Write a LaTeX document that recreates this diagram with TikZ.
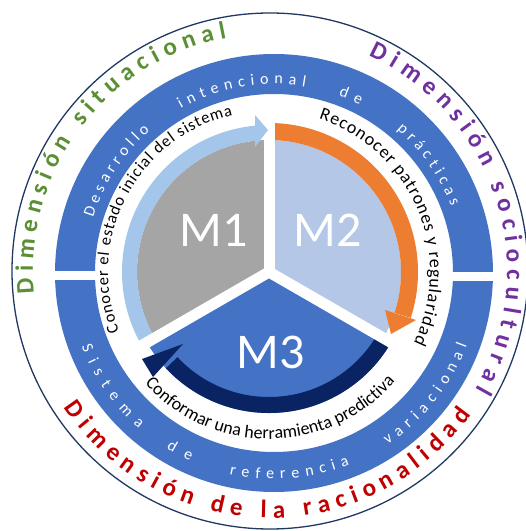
\documentclass[tikz,border=0pt]{standalone}
\usepackage{fontspec}
\setmainfont{Carlito}
\usetikzlibrary{calc,decorations.text}

\definecolor{ringblue}{HTML}{4472C4}
\definecolor{sectorgray}{HTML}{A5A5A5}
\definecolor{sectorpale}{HTML}{B4C7E7}
\definecolor{sectorblue}{HTML}{4472C4}
\definecolor{arrowpale}{HTML}{A3C6EA}
\definecolor{arroworange}{HTML}{ED7D31}
\definecolor{arrownavy}{HTML}{0A2463}
\definecolor{rimnavy}{HTML}{203864}
\definecolor{titlegreen}{HTML}{5B8F36}
\definecolor{titlepurple}{HTML}{7030A0}
\definecolor{titlered}{HTML}{C00000}

\newcommand\ttlfont{\fontsize{25}{28}\selectfont\bfseries}
\newcommand\bandfont{\fontsize{16}{18}\selectfont\color{white}}
\newcommand\phasefont{\fontsize{18}{20}\selectfont\color{black}}
\newcommand\phasefontsmall{\fontsize{16.5}{19}\selectfont\color{black}}

% text set along a circular arc: centre, radius, start angle, end angle, alignment, text
\newcommand\arctext[6]{%
  \path[decorate,decoration={text along path,text align={#5},text={#6}}]
    ($(#1)+(#3:#2)$) arc[start angle=#3,end angle=#4,radius=#2];}

\begin{document}
\begin{tikzpicture}[x=1pt,y=1pt,
  mlabel/.style={text=white,font=\fontsize{50}{56}\selectfont,inner sep=0pt},
  divider/.style={white,line width=11pt},
  ringgap/.style={fill=white}]
\useasboundingbox (0,0) rectangle (526,531);
\fill[white] (0,0) rectangle (526,531);

\coordinate (O) at (270,260);  % outer rim and titles
\coordinate (B) at (274,258);  % blue ring
\coordinate (P) at (269,259);  % inner pie

% outer rim
\draw[rimnavy,line width=1.3pt] (O) circle[radius=258];

% blue ring, split into an upper and a lower half
\draw[ringblue,line width=40pt] (B) circle[radius=199];
\fill[ringgap] (40,250.5) rectangle (115,259.5);
\fill[ringgap] (435,250) rectangle (510,259);

% the three sectors
\fill[sectorgray] (P) -- ($(P)+(90:132)$) arc[start angle=90,end angle=210,radius=132] -- cycle;
\fill[sectorpale] (P) -- ($(P)+(-30:132)$) arc[start angle=-30,end angle=90,radius=132] -- cycle;
\fill[sectorblue] (P) -- ($(P)+(210:141)$) arc[start angle=210,end angle=330,radius=141] -- cycle;

% cycle arrows: shafts
\draw[arrowpale,line width=15pt] ($(P)+(210:139.5)$) arc[start angle=210,end angle=95.5,radius=139.5];
\draw[arroworange,line width=17pt] ($(P)+(90:140.5)$) arc[start angle=90,end angle=-18,radius=140.5];
\draw[arrownavy,line width=16pt] ($(P)+(330:133)$) arc[start angle=330,end angle=223,radius=133];

% white dividers between the sectors
\foreach \a in {90,210,330} \draw[divider] (P) -- ($(P)+(\a:160)$);

% cycle arrows: heads
\fill[arrowpale] (268,401) -- (255,416) -- (255,384) -- cycle;
\fill[arroworange] (391,197) -- (385,221) -- (416,211) -- cycle;
\fill[arrownavy] (142,172) -- (183,187) -- (153,154) -- cycle;

% sector labels
\node[mlabel] (m1) at (214,301) {M1};
\node[mlabel] (m2) at (328,301) {M2};
\node[mlabel] (m3) at (271,179) {M3};

% texts inside the blue ring
\arctext{B}{189}{163}{131}{fit to path}{|\bandfont|Desarrollo}
\arctext{B}{189}{119.5}{80.5}{fit to path}{|\bandfont|intencional}
\arctext{B}{189}{70}{63}{fit to path}{|\bandfont|de}
\arctext{B}{189}{49.5}{20.5}{fit to path}{|\bandfont|prácticas}
\arctext{B}{206}{201}{229}{fit to path}{|\bandfont|Sistema}
\arctext{B}{206}{238.5}{246}{fit to path}{|\bandfont|de}
\arctext{B}{206}{257.5}{291.5}{fit to path}{|\bandfont|referencia}
\arctext{B}{206}{303.5}{339.5}{fit to path}{|\bandfont|variacional}

% dimension titles
\arctext{O}{237}{185.5}{100.5}{fit to path}{|\ttlfont\color{titlegreen}|Dimensión situacional}
\arctext{O}{237}{65.5}{-30}{fit to path}{|\ttlfont\color{titlepurple}|Dimensión sociocultural}
\arctext{O}{247}{213.5}{324.5}{fit to path}{|\ttlfont\color{titlered}|Dimensión de la racionalidad}

% phase texts around the sectors
\arctext{P}{161}{201.5}{103}{fit to path}{|\phasefontsmall|Conocer el estado inicial del sistema}
\arctext{P}{161}{72}{-26}{fit to path}{|\phasefont|Reconocer patrones y regularidad}
\arctext{P}{167}{222}{318.5}{fit to path}{|\phasefont|Conformar una herramienta predictiva}
\end{tikzpicture}
\end{document}
